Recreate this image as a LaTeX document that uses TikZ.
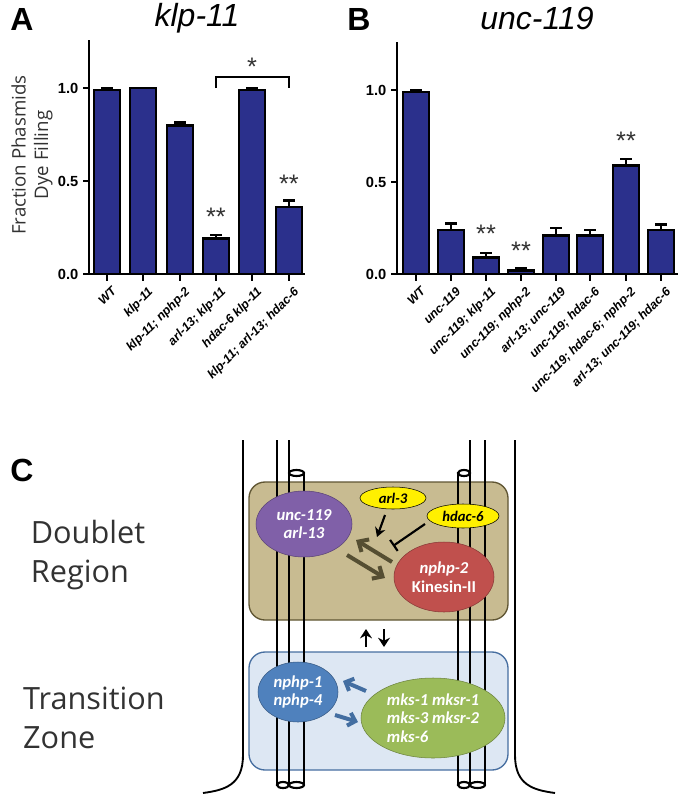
\documentclass[tikz,border=0pt]{standalone}
\usepackage{fontspec}
\setmainfont{Liberation Sans}
\newfontfamily\cfont{Carlito}
\newfontfamily\ofont{Open Sans}
\usetikzlibrary{arrows.meta,shapes.geometric}
\definecolor{barblue}{RGB}{43,48,140}
\definecolor{tanfill}{RGB}{200,187,145}
\definecolor{tanedge}{RGB}{95,85,50}
\definecolor{olivearr}{RGB}{85,78,50}
\definecolor{tzfill}{RGB}{221,231,243}
\definecolor{tzedge}{RGB}{70,110,160}
\definecolor{purp}{RGB}{128,96,168}
\definecolor{redk}{RGB}{192,80,77}
\definecolor{yel}{RGB}{255,240,0}
\definecolor{blu}{RGB}{79,129,189}
\definecolor{grn}{RGB}{155,187,89}
\definecolor{txtgray}{RGB}{50,50,50}
\tikzset{
 axis/.style={line width=2.2pt},
 barst/.style={fill=barblue,draw=black,line width=2pt},
 errst/.style={line width=2pt},
 tick/.style={font=\bfseries\fontsize{11}{11}\selectfont,anchor=east},
 xl/.style={font=\bfseries\itshape\fontsize{9.3}{10}\selectfont,rotate=45,anchor=north east,inner sep=1pt},
 sig/.style={font=\fontsize{19}{19}\selectfont,text=txtgray},
 tube/.style={line width=2pt},
 tcap/.style={line width=1.6pt,fill=white},
 gene/.style={font=\cfont\bfseries\itshape\fontsize{12.5}{14}\selectfont,text=white,align=center},
 big/.style={font=\ofont\fontsize{23}{29}\selectfont,text=txtgray,align=left},
}
\begin{document}
\begin{tikzpicture}[x=0.75pt,y=-0.75pt]
\useasboundingbox (0,0) rectangle (686,800);
% Panel A
\node[font=\bfseries\fontsize{24}{24}\selectfont] (la) at (22,19) {A};
\node[font=\itshape\fontsize{24}{24}\selectfont] (ta) at (197,18) {klp-11};
\node[rotate=90,align=center,font=\ofont\fontsize{14}{17}\selectfont,text=txtgray] (yl) at (32,155) {Fraction Phasmids\\Dye Filling};
\foreach \x/\v/\e/\l in {107/0.99/0.01/WT,143/1.0/0/klp-11,180/0.80/0.015/{klp-11; nphp-2},216/0.19/0.02/{arl-13; klp-11},252/0.99/0.01/{hdac-6 klp-11},289/0.36/0.035/{klp-11; arl-13; hdac-6}}{
 \draw[barst] (\x-13,274) rectangle (\x+13,{274-186*\v});
 \draw[errst] (\x,{274-186*\v}) -- (\x,{274-186*(\v+\e)}) (\x-6,{274-186*(\v+\e)}) -- (\x+6,{274-186*(\v+\e)});
 \draw[errst] (\x,274) -- (\x,281);
 \node[xl] at (\x+4,284) {\l};
}
\draw[axis] (89,40) -- (89,275) (88,274) -- (305,274);
\foreach \v/\t in {0/0.0,0.5/0.5,1/1.0}{\draw[errst] (83,{274-186*\v}) -- (89,{274-186*\v}); \node[tick] at (83,{274-186*\v}) {\t};}
\draw[line width=1.8pt] (216,88) -- (216,77) -- (289,77) -- (289,88);
\node[sig] at (252,67) {*};
\node[sig] at (216,217) {**};
\node[sig] at (289,184) {**};
% Panel B
\node[font=\bfseries\fontsize{24}{24}\selectfont] (lb) at (359,19) {B};
\node[font=\itshape\fontsize{24}{24}\selectfont] (tb) at (537,18) {unc-119};
\foreach \x/\v/\e/\l in {416/0.99/0.01/WT,451/0.24/0.035/unc-119,486/0.09/0.025/{unc-119; klp-11},521/0.02/0.01/{unc-119; nphp-2},556/0.21/0.04/{arl-13; unc-119},590/0.21/0.03/{unc-119; hdac-6},626/0.59/0.035/{unc-119; hdac-6; nphp-2},661/0.24/0.03/{arl-13; unc-119; hdac-6}}{
 \draw[barst] (\x-13,274) rectangle (\x+13,{274-184*\v});
 \draw[errst] (\x,{274-184*\v}) -- (\x,{274-184*(\v+\e)}) (\x-6,{274-184*(\v+\e)}) -- (\x+6,{274-184*(\v+\e)});
 \draw[errst] (\x,274) -- (\x,281);
 \node[xl] at (\x+4,284) {\l};
}
\draw[axis] (397,42) -- (397,275) (396,274) -- (678,274);
\foreach \v/\t in {0/0.0,0.5/0.5,1/1.0}{\draw[errst] (391,{274-184*\v}) -- (397,{274-184*\v}); \node[tick] at (391,{274-184*\v}) {\t};}
\node[sig] at (486,234) {**};
\node[sig] at (521,251) {**};
\node[sig] at (626,141) {**};
% Panel C
\node[font=\bfseries\fontsize{24}{24}\selectfont] (lc) at (22,470) {C};
\node[big] (dr) at (88,555) {Doublet\\Region};
\node[big] (tz) at (94,718) {Transition\\Zone};
\draw[line width=1.4pt] (243,440) -- (243,755) .. controls (243,785) and (225,790) .. (203,793);
\draw[line width=1.4pt] (515,440) -- (515,755) .. controls (515,785) and (533,790) .. (555,793);
\node[draw=tanedge,fill=tanfill,line width=1pt,rounded corners=12pt,minimum width=259*0.75pt,minimum height=138*0.75pt,inner sep=0] (db) at (378.5,551) {};
\node[draw=tzedge,fill=tzfill,line width=1pt,rounded corners=12pt,minimum width=259*0.75pt,minimum height=118*0.75pt,inner sep=0] (tzb) at (378.5,711) {};
% tubes
\foreach \a/\b/\t in {277/289/440,289/304/473,458/470/473,470/485/440}{
 \draw[tube] (\a,\t) -- (\a,785) (\b,\t) -- (\b,785);
 \draw[tcap] ({(\a+\b)/2},785) ellipse ({(\b-\a)/2} and 3);
}
\draw[tcap] (296.5,473) ellipse (7.5 and 3);
\draw[tcap] (464,473) ellipse (6 and 3);
% genes
\node[gene,draw=purp!70!black,fill=purp,ellipse,minimum width=96*0.75pt,minimum height=66*0.75pt,inner sep=0] (unc) at (304,524) {unc-119\\arl-13};
\node[gene,draw=redk!70!black,fill=redk,ellipse,minimum width=100*0.75pt,minimum height=70*0.75pt,inner sep=0] (kin) at (444,577) {nphp-2\\\upshape Kinesin-II};
\node[gene,text=black,draw=black,fill=yel,ellipse,minimum width=66*0.75pt,minimum height=22*0.75pt,inner sep=0,font=\cfont\bfseries\itshape\fontsize{11}{12}\selectfont] (arl) at (393,498) {arl-3};
\node[gene,text=black,draw=black,fill=yel,ellipse,minimum width=72*0.75pt,minimum height=24*0.75pt,inner sep=0,font=\cfont\bfseries\itshape\fontsize{11}{12}\selectfont] (hd) at (463,516) {hdac-6};
\node[gene,draw=blu!70!black,fill=blu,ellipse,minimum width=80*0.75pt,minimum height=60*0.75pt,inner sep=0] (np) at (298,692) {nphp-1\\nphp-4};
\node[gene,draw=grn!70!black,fill=grn,ellipse,minimum width=144*0.75pt,minimum height=80*0.75pt,inner sep=0,align=left] (mks) at (433,718) {mks-1 mksr-1\\mks-3 mksr-2\\mks-6\phantom{ mksr-2}};
% arrows
\coordinate (a1) at (385,515); \coordinate (a2) at (377,537);
\draw[line width=1.6pt,-{Stealth[length=7pt,width=8pt]}] (a1) -- (a2);
\coordinate (h1) at (425,524); \coordinate (h2) at (393,546);
\draw[line width=1.6pt,-{Bar[width=10pt]}] (h1) -- (h2);
\coordinate (o1) at (392,562); \coordinate (o2) at (356,540);
\coordinate (o3) at (347,555); \coordinate (o4) at (385,578);
\draw[olivearr,line width=3pt,-{Straight Barb[length=6pt,width=11pt]}] (o1) -- (o2);
\draw[olivearr,line width=3pt,-{Straight Barb[length=6pt,width=11pt]}] (o3) -- (o4);
\coordinate (u1) at (366,647); \coordinate (u2) at (366,629);
\coordinate (d1) at (384,629); \coordinate (d2) at (384,647);
\draw[line width=1.8pt,-{Stealth[length=7pt,width=9pt]}] (u1) -- (u2);
\draw[line width=1.8pt,-{Stealth[length=7pt,width=9pt]}] (d1) -- (d2);
\coordinate (b1) at (366,691); \coordinate (b2) at (343,681);
\coordinate (b3) at (335,715); \coordinate (b4) at (358,722);
\draw[blu!85!black,line width=3pt,-{Straight Barb[length=5pt,width=10pt]}] (b1) -- (b2);
\draw[blu!85!black,line width=3pt,-{Straight Barb[length=5pt,width=10pt]}] (b3) -- (b4);
\end{tikzpicture}
\end{document}
